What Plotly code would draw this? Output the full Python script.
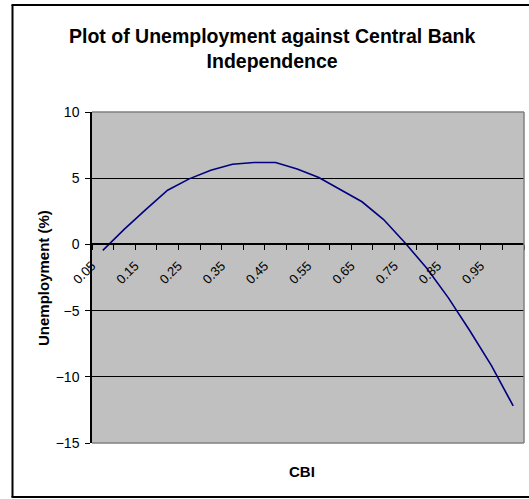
import plotly.graph_objects as go

# Central bank independence index (category positions along the x axis)
cbi = [0.05, 0.10, 0.15, 0.20, 0.25, 0.30, 0.35, 0.40, 0.45, 0.50,
       0.55, 0.60, 0.65, 0.70, 0.75, 0.80, 0.85, 0.90, 0.95, 1.00]

# Unemployment rate (%) at each CBI level
unemployment = [-0.45, 1.15, 2.65, 4.09, 4.95, 5.60, 6.06, 6.19, 6.19, 5.70,
                5.05, 4.15, 3.22, 1.88, 0.10, -1.80, -4.04, -6.54, -9.18, -12.20]

# Labelled ticks on the x axis (every other category)
x_tick_vals = [0.05, 0.15, 0.25, 0.35, 0.45, 0.55, 0.65, 0.75, 0.85, 0.95]
x_tick_text = ["0.05", "0.15", "0.25", "0.35", "0.45", "0.55", "0.65", "0.75", "0.85", "0.95"]

y_min, y_max = -15, 10

FONT = "Liberation Sans, Arial, sans-serif"

fig = go.Figure()
fig.add_trace(go.Scatter(
    x=cbi, y=unemployment, mode="lines",
    line=dict(color="#000080", width=1.6),
    showlegend=False, hoverinfo="x+y",
))

# x axis crosses the y axis at zero
zero_pos = (0 - y_min) / (y_max - y_min)


def px_x(p):
    return (p - 92) / 432


def px_y(p):
    return (443 - p) / 331


fig.update_layout(
    width=529, height=499,
    margin=dict(l=92, r=5, t=112, b=56),
    paper_bgcolor="white",
    plot_bgcolor="#C0C0C0",
    font=dict(family=FONT, color="black"),
    xaxis=dict(
        type="linear",
        range=[0.025, 1.025],
        anchor="free", position=zero_pos,
        showline=True, linecolor="black", linewidth=1.5,
        showgrid=False, zeroline=False,
        tickmode="array", tickvals=x_tick_vals, ticktext=x_tick_text,
        ticks="", tickangle=-45,
        ticklabelshift=-11, ticklabelstandoff=8,
        tickfont=dict(size=13, family=FONT, color="black"),
        minor=dict(tick0=0.025, dtick=0.05, ticks="outside", ticklen=5,
                   tickcolor="black", tickwidth=1.2, showgrid=False),
    ),
    yaxis=dict(
        range=[y_min, y_max], dtick=5, tick0=0,
        showline=True, linecolor="black", linewidth=1.5,
        showgrid=True, gridcolor="black", gridwidth=1,
        zeroline=False,
        ticks="outside", ticklen=5, tickcolor="black", tickwidth=1.2,
        ticklabelstandoff=3,
        tickfont=dict(size=14, family=FONT, color="black"),
    ),
    annotations=[
        # chart title
        dict(text="<b>Plot of Unemployment against Central Bank<br>Independence</b>",
             xref="paper", yref="paper", x=px_x(272), y=px_y(48),
             xanchor="center", yanchor="middle", showarrow=False,
             font=dict(size=19.5, family=FONT, color="black")),
        dict(text="<b>Unemployment (%)</b>", textangle=-90,
             xref="paper", yref="paper", x=px_x(43), y=px_y(278),
             xanchor="center", yanchor="middle", showarrow=False,
             font=dict(size=15, family=FONT, color="black")),
        dict(text="<b>CBI</b>",
             xref="paper", yref="paper", x=px_x(302), y=px_y(471),
             xanchor="center", yanchor="middle", showarrow=False,
             font=dict(size=15, family=FONT, color="black")),
    ],
    shapes=[
        # plot area border (top, right, bottom)
        dict(type="line", xref="paper", yref="paper", x0=0, x1=1, y0=1, y1=1,
             line=dict(color="#808080", width=1.5)),
        dict(type="line", xref="paper", yref="paper", x0=1, x1=1, y0=0, y1=1,
             line=dict(color="#808080", width=1.5)),
        dict(type="line", xref="paper", yref="paper", x0=0, x1=1, y0=0, y1=0,
             line=dict(color="#808080", width=1.5)),
        # chart frame (left, top, bottom)
        dict(type="line", xref="paper", yref="paper",
             x0=px_x(12.5), x1=px_x(12.5), y0=px_y(497), y1=px_y(5),
             line=dict(color="black", width=2)),
        dict(type="line", xref="paper", yref="paper",
             x0=px_x(11.5), x1=px_x(540), y0=px_y(5), y1=px_y(5),
             line=dict(color="black", width=2)),
        dict(type="line", xref="paper", yref="paper",
             x0=px_x(11.5), x1=px_x(540), y0=px_y(497), y1=px_y(497),
             line=dict(color="black", width=2)),
    ],
)

fig.write_html("out.html", config={"displayModeBar": False})
